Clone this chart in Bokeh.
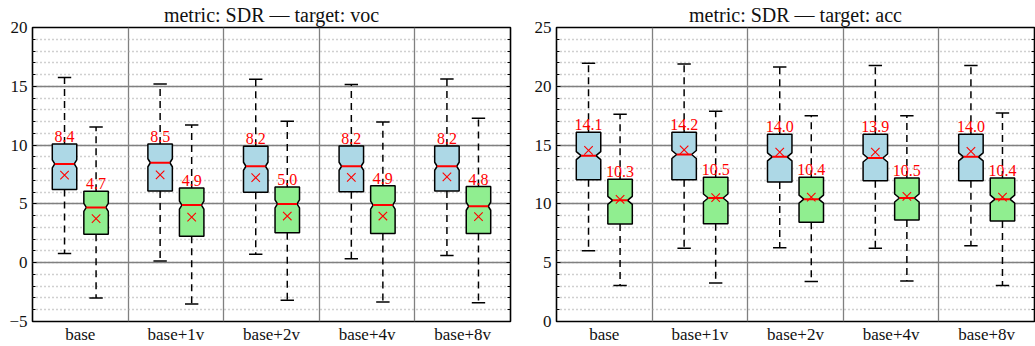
from bokeh.plotting import figure
from bokeh.layouts import row
from bokeh.models import (ColumnDataSource, FixedTicker, SingleIntervalTicker,
                          LinearAxis, Range1d, CustomLabelingPolicy, Spacer)
from bokeh.embed import file_html
from bokeh.resources import INLINE
from bokeh.core.properties import value

categories = ["base", "base+1v", "base+2v", "base+4v", "base+8v"]

# ---- target: voc ----
voc_a_med = [8.4, 8.5, 8.2, 8.2, 8.2]
voc_a_q1 = [6.22, 6.09, 6.0, 6.04, 6.09]
voc_a_q3 = [10.1, 10.1, 9.9, 9.93, 9.93]
voc_a_lo = [0.79, 0.14, 0.71, 0.34, 0.62]
voc_a_hi = [15.74, 15.2, 15.6, 15.15, 15.63]
voc_a_mean = [7.45, 7.47, 7.23, 7.26, 7.29]

voc_b_med = [4.7, 4.9, 5.0, 4.9, 4.8]
voc_b_q1 = [2.42, 2.24, 2.55, 2.49, 2.49]
voc_b_q3 = [6.08, 6.35, 6.43, 6.55, 6.47]
voc_b_lo = [-3.01, -3.52, -3.2, -3.35, -3.4]
voc_b_hi = [11.54, 11.71, 12.03, 11.97, 12.28]
voc_b_mean = [3.74, 3.88, 3.97, 3.97, 3.91]

# ---- target: acc ----
acc_a_med = [14.1, 14.2, 14.0, 13.9, 14.0]
acc_a_q1 = [12.06, 12.06, 11.86, 11.96, 11.96]
acc_a_q3 = [16.09, 16.09, 15.92, 15.92, 15.92]
acc_a_lo = [6.02, 6.22, 6.28, 6.22, 6.45]
acc_a_hi = [21.97, 21.9, 21.65, 21.76, 21.76]
acc_a_mean = [14.55, 14.6, 14.41, 14.4, 14.47]

acc_b_med = [10.3, 10.5, 10.4, 10.5, 10.4]
acc_b_q1 = [8.29, 8.32, 8.43, 8.63, 8.54]
acc_b_q3 = [12.09, 12.26, 12.26, 12.2, 12.2]
acc_b_lo = [3.07, 3.27, 3.41, 3.44, 3.07]
acc_b_hi = [17.62, 17.88, 17.5, 17.5, 17.73]
acc_b_mean = [10.39, 10.53, 10.58, 10.64, 10.58]

NOTCH_HALF = 0.34     # half height of the notch (confidence interval), data units
FONT = "Liberation Serif"


def add_series(p, offset, med, q1, q3, lo, hi, mean, fill, inset):
    n = len(categories)
    xs_c = [i + 0.5 + offset for i in range(n)]
    hw = 0.128
    cw = 0.07
    pxs, pys = [], []
    for x, m, a, b in zip(xs_c, med, q1, q3):
        L, R = x - hw, x + hw
        nlo, nhi = m - NOTCH_HALF, m + NOTCH_HALF
        pxs.append([L, R, R, R - inset, R, R, L, L, L + inset, L])
        pys.append([a, a, nlo, m, nhi, b, b, nhi, m, nlo])
    src = ColumnDataSource(dict(x=xs_c, q1=q1, q3=q3, lo=lo, hi=hi, med=med, mean=mean,
                                cl=[x - cw for x in xs_c], cr=[x + cw for x in xs_c],
                                ml=[x - hw + inset for x in xs_c],
                                mr=[x + hw - inset for x in xs_c],
                                lab=["%.1f" % v for v in med]))
    p.segment(x0="x", y0="q3", x1="x", y1="hi", source=src, line_color="black",
              line_width=1.5, line_dash="7 5")
    p.segment(x0="x", y0="q1", x1="x", y1="lo", source=src, line_color="black",
              line_width=1.5, line_dash="7 5")
    p.segment(x0="cl", y0="hi", x1="cr", y1="hi", source=src, line_color="black", line_width=1.5)
    p.segment(x0="cl", y0="lo", x1="cr", y1="lo", source=src, line_color="black", line_width=1.5)
    p.patches(pxs, pys, fill_color=fill, line_color="black", line_width=1.5)
    p.segment(x0="ml", y0="med", x1="mr", y1="med", source=src, line_color="red", line_width=2)
    p.scatter(x="x", y="mean", source=src, marker="x", size=12, line_color="red",
              line_width=1.1)
    p.text(x="x", y="q3", text="lab", source=src, text_align="center",
           text_baseline="bottom", y_offset=-2, text_color="red",
           text_font=value(FONT), text_font_size="16px")


def make_panel(title, ylo, yhi, series, bl, br, inset):
    p = figure(frame_width=478, frame_height=294, x_range=Range1d(0, 5),
               y_range=Range1d(ylo, yhi),
               output_backend="svg", toolbar_location=None,
               min_border_left=bl, min_border_right=br, min_border_top=19,
               min_border_bottom=20)
    p.title.text = title
    p.title.align = "center"
    p.title.text_font = FONT
    p.title.text_font_size = "20px"
    p.title.text_font_style = "normal"
    p.title.text_color = "#111111"
    p.title.standoff = 3
    p.outline_line_color = "black"
    p.outline_line_width = 1.6
    p.outline_line_alpha = 1.0

    yt = SingleIntervalTicker(interval=5, num_minor_ticks=5)
    p.yaxis.ticker = yt
    p.yaxis.axis_line_color = None
    p.yaxis.major_tick_in = 4
    p.yaxis.major_tick_out = 0
    p.yaxis.minor_tick_in = 3
    p.yaxis.minor_tick_out = 0
    p.yaxis.major_tick_line_color = "black"
    p.yaxis.minor_tick_line_color = "black"
    p.yaxis.major_label_text_font = FONT
    p.yaxis.major_label_text_font_size = "17px"
    p.yaxis.major_label_text_color = "#111111"
    p.yaxis.major_label_standoff = 5

    hide_all = CustomLabelingPolicy(code="""
        for (const i of indices) { indices.unset(i) }
        return indices
    """)
    ra = LinearAxis(ticker=yt, axis_line_color=None, major_tick_in=4, major_tick_out=0,
                    minor_tick_in=3, minor_tick_out=0, major_label_policy=hide_all,
                    major_label_standoff=0, major_tick_line_color="black",
                    minor_tick_line_color="black")
    p.add_layout(ra, "right")

    p.xaxis.ticker = FixedTicker(ticks=[i + 0.5 for i in range(len(categories))])
    p.xaxis.major_label_overrides = {i + 0.5: c for i, c in enumerate(categories)}
    p.xaxis.axis_line_color = None
    p.xaxis.major_tick_line_color = None
    p.xaxis.major_tick_in = 0
    p.xaxis.major_tick_out = 0
    p.xaxis.major_label_text_font = FONT
    p.xaxis.major_label_text_font_size = "17px"
    p.xaxis.major_label_text_color = "#111111"
    p.xaxis.major_label_standoff = 3

    p.xgrid.ticker = FixedTicker(ticks=[1, 2, 3, 4])
    p.xgrid.grid_line_color = "#808080"
    p.xgrid.grid_line_width = 1.3
    p.ygrid.grid_line_color = "#808080"
    p.ygrid.grid_line_width = 1.3
    p.ygrid.minor_grid_line_color = "#a0a0a0"
    p.ygrid.minor_grid_line_dash = "1 3"
    p.ygrid.minor_grid_line_width = 1.3

    for off, s, fill in zip((-0.165, 0.165), series, ("#ADD8E6", "#90EE90")):
        add_series(p, off, *s, fill=fill, inset=inset)
    return p


p1 = make_panel("metric: SDR \u2014 target: voc", -5, 20,
                [(voc_a_med, voc_a_q1, voc_a_q3, voc_a_lo, voc_a_hi, voc_a_mean),
                 (voc_b_med, voc_b_q1, voc_b_q3, voc_b_lo, voc_b_hi, voc_b_mean)],
                bl=26, br=20, inset=0.026)
p2 = make_panel("metric: SDR \u2014 target: acc", 0, 25,
                [(acc_a_med, acc_a_q1, acc_a_q3, acc_a_lo, acc_a_hi, acc_a_mean),
                 (acc_b_med, acc_b_q1, acc_b_q3, acc_b_lo, acc_b_hi, acc_b_mean)],
                bl=26, br=1, inset=0.05)

layout = row(Spacer(width=6, height=10), p1, p2)
open("out.html", "w").write(file_html(layout, INLINE))
